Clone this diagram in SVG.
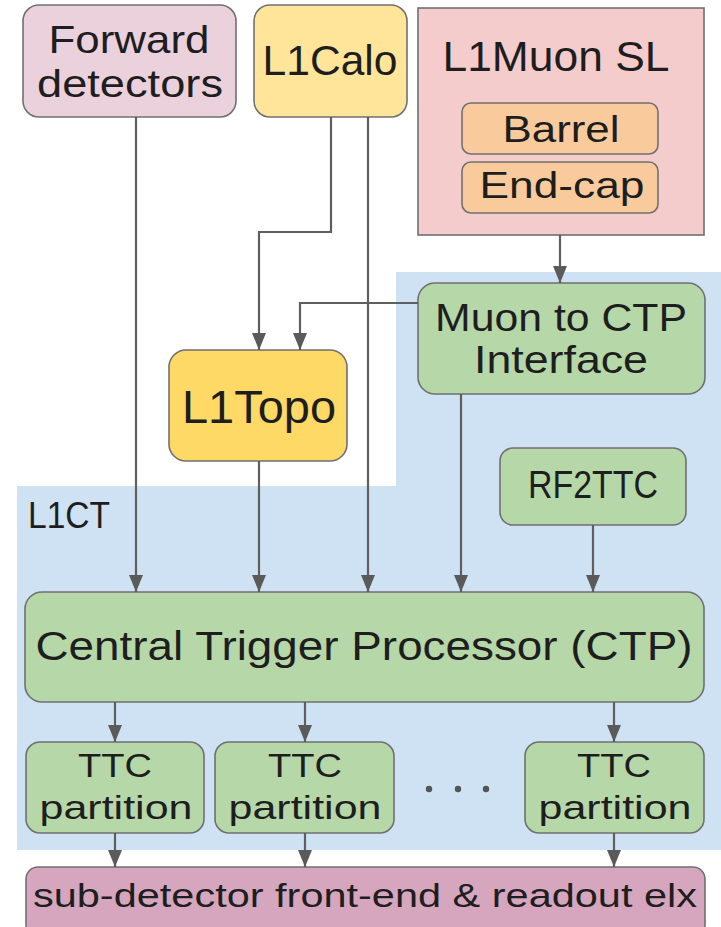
<svg xmlns="http://www.w3.org/2000/svg" width="721" height="927" viewBox="0 0 721 927">
<style>
.box{stroke:#707070;stroke-width:1.6}
.t{font-family:"Liberation Sans",Arial,sans-serif;fill:#1e1e1e;text-anchor:middle}
.c{fill:none;stroke:#5f5f5f;stroke-width:2.2;marker-end:url(#ah)}
</style>
<defs>
<marker id="ah" markerUnits="userSpaceOnUse" markerWidth="17" markerHeight="14" refX="17" refY="7" orient="auto" viewBox="0 0 17 14">
<path d="M0,0 L17,7 L0,14 z" fill="#5a5a5a"/>
</marker>
</defs>
<rect width="721" height="927" fill="#ffffff"/>
<g id="l1ct-region">
<path d="M17,486 H396 V272 H721 V850 H17 Z" fill="#cfe2f3"/>
<text class="t" x="69" y="528" font-size="36" textLength="82" lengthAdjust="spacingAndGlyphs">L1CT</text>
</g>
<g id="forward-detectors">
<rect class="box" x="23" y="5" width="213" height="112" rx="16" fill="#ead1dc"/>
<text class="t" x="129" y="53" font-size="38" textLength="161" lengthAdjust="spacingAndGlyphs">Forward</text>
<text class="t" x="130" y="97" font-size="38" textLength="186" lengthAdjust="spacingAndGlyphs">detectors</text>
</g>
<g id="l1calo">
<rect class="box" x="254" y="5" width="153" height="112" rx="16" fill="#ffe599"/>
<text class="t" x="330" y="75" font-size="43" textLength="135" lengthAdjust="spacingAndGlyphs">L1Calo</text>
</g>
<g id="l1muon-sl">
<rect class="box" x="418" y="8" width="286" height="227" fill="#f4cccc"/>
<text class="t" x="556" y="71" font-size="42" textLength="227" lengthAdjust="spacingAndGlyphs">L1Muon SL</text>
</g>
<g id="barrel">
<rect class="box" x="462" y="103" width="196" height="51" rx="9" fill="#f9cb9c"/>
<text class="t" x="561" y="142" font-size="36" textLength="117" lengthAdjust="spacingAndGlyphs">Barrel</text>
</g>
<g id="end-cap">
<rect class="box" x="462" y="162" width="196" height="51" rx="9" fill="#f9cb9c"/>
<text class="t" x="562" y="198" font-size="36" textLength="165" lengthAdjust="spacingAndGlyphs">End-cap</text>
</g>
<g id="muon-to-ctp">
<rect class="box" x="418" y="283" width="287" height="111" rx="17" fill="#b6d7a8"/>
<text class="t" x="561" y="331" font-size="38" textLength="252" lengthAdjust="spacingAndGlyphs">Muon to CTP</text>
<text class="t" x="561" y="373" font-size="38" textLength="174" lengthAdjust="spacingAndGlyphs">Interface</text>
</g>
<g id="l1topo">
<rect class="box" x="169" y="350" width="178" height="111" rx="17" fill="#ffd966"/>
<text class="t" x="259" y="423" font-size="47" textLength="154" lengthAdjust="spacingAndGlyphs">L1Topo</text>
</g>
<g id="rf2ttc">
<rect class="box" x="500" y="448" width="186" height="77" rx="13" fill="#b6d7a8"/>
<text class="t" x="593" y="498" font-size="38" textLength="130" lengthAdjust="spacingAndGlyphs">RF2TTC</text>
</g>
<g id="ctp">
<rect class="box" x="25" y="592" width="679" height="110" rx="17" fill="#b6d7a8"/>
<text class="t" x="364" y="660" font-size="41" textLength="657" lengthAdjust="spacingAndGlyphs">Central Trigger Processor (CTP)</text>
</g>
<g id="ttc-1">
<rect class="box" x="26" y="742" width="178" height="91" rx="14" fill="#b6d7a8"/>
<text class="t" x="115" y="777" font-size="33" textLength="74" lengthAdjust="spacingAndGlyphs">TTC</text>
<text class="t" x="116" y="819" font-size="33" textLength="153" lengthAdjust="spacingAndGlyphs">partition</text>
</g>
<g id="ttc-2">
<rect class="box" x="215" y="742" width="179" height="91" rx="14" fill="#b6d7a8"/>
<text class="t" x="305" y="777" font-size="33" textLength="74" lengthAdjust="spacingAndGlyphs">TTC</text>
<text class="t" x="305" y="819" font-size="33" textLength="153" lengthAdjust="spacingAndGlyphs">partition</text>
</g>
<g id="ellipsis">
<circle cx="429" cy="789" r="3.2" fill="#555"/>
<circle cx="458" cy="789" r="3.2" fill="#555"/>
<circle cx="486" cy="789" r="3.2" fill="#555"/>
</g>
<g id="ttc-n">
<rect class="box" x="525" y="742" width="179" height="91" rx="14" fill="#b6d7a8"/>
<text class="t" x="614" y="777" font-size="33" textLength="74" lengthAdjust="spacingAndGlyphs">TTC</text>
<text class="t" x="615" y="819" font-size="33" textLength="153" lengthAdjust="spacingAndGlyphs">partition</text>
</g>
<g id="sub-detector">
<rect class="box" x="26" y="867" width="679" height="70" rx="12" fill="#d5a6bd"/>
<text class="t" x="365" y="907" font-size="33" textLength="664" lengthAdjust="spacingAndGlyphs">sub-detector front-end &amp; readout elx</text>
</g>
<g id="connectors">
<path class="c" d="M136,117 V592"/>
<path class="c" d="M331,117 V232 H259 V350"/>
<path class="c" d="M368,117 V592"/>
<path class="c" d="M560,235 V283"/>
<path class="c" d="M418,303 H300 V350"/>
<path class="c" d="M259,461 V592"/>
<path class="c" d="M461,394 V592"/>
<path class="c" d="M593,525 V592"/>
<path class="c" d="M115,702 V742"/>
<path class="c" d="M305,702 V742"/>
<path class="c" d="M614,702 V742"/>
<path class="c" d="M115,833 V867"/>
<path class="c" d="M305,833 V867"/>
<path class="c" d="M614,833 V867"/>
</g>
</svg>
